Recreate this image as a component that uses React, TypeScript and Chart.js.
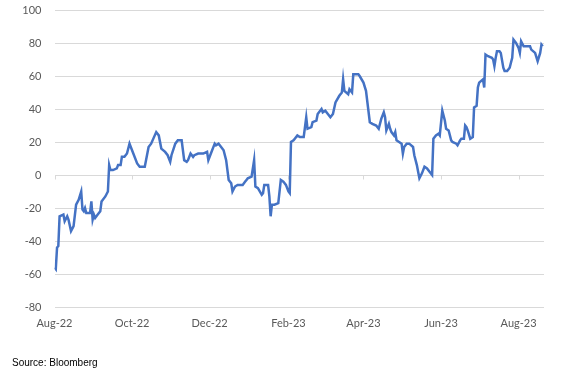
import React, { useEffect, useRef } from "react";
import { Chart, registerables } from "chart.js";

Chart.register(...registerables);

// Days since 1 Aug 2022
const days = [
  0, 1, 2, 3, 4, 7, 8, 10, 11, 13, 15, 17, 19, 21, 22, 23, 24, 25, 28, 29, 30, 31, 32, 34, 36, 37, 40, 42, 43, 44, 46, 49, 50, 52, 53, 55, 57, 59, 60, 65, 67, 71, 74, 76, 80, 82, 84, 87, 89, 91, 92, 95, 97, 100, 102, 104, 105, 107, 109, 110, 113, 117, 120, 121, 123, 126, 127, 129, 130, 133, 135, 137, 139, 140, 142, 144, 148, 150, 151, 152, 155, 157, 158, 160, 163, 164, 165, 168, 169, 170, 171, 173, 176, 178, 180, 182, 184, 185, 186, 188, 189, 191, 193, 196, 198, 199, 202, 203, 206, 207, 210, 211, 213, 215, 217, 219, 221, 224, 226, 227, 228, 231, 232, 234, 235, 237, 239, 240, 243, 245, 248, 250, 253, 255, 257, 259, 260, 261, 263, 264, 265, 267, 268, 269, 271, 273, 274, 275, 277, 279, 282, 283, 285, 286, 287, 289, 291, 293, 295, 297, 298, 300, 302, 303, 305, 307, 308, 310, 312, 313, 316, 317, 319, 320, 322, 323, 324, 325, 327, 329, 330, 332, 333, 334, 337, 338, 339, 341, 344, 345, 346, 347, 348, 350, 351, 353, 354, 356, 358, 359, 360, 361, 363, 365, 366, 367, 369, 370, 372, 374, 375, 378, 380, 382, 383, 384,
];

const values = [
  -56, -57, -44, -43, -25, -24, -28, -25, -27, -34, -31, -18, -15, -10, -21, -22, -20, -23, -23, -16, -27, -24, -26, -24, -22, -16, -13, -10, 6, 3, 3, 4, 6, 6, 11, 11, 13, 19, 17, 7, 5, 5, 17, 19, 26, 24, 16, 14, 12, 8, 12, 19, 21, 21, 9, 8, 9, 13, 11, 12, 13, 13, 14, 9, 13, 19, 18, 19, 18, 15, 9, -3, -5, -10, -7, -6, -6, -4, -3, -2, -1, 9, -7, -8, -12, -11, -6, -6, -13, -25, -18, -18, -17, -3, -4, -6, -10, -11, 20, 21, 22, 24, 23, 23, 35, 28, 29, 32, 33, 37, 40, 38, 39, 37, 35, 37, 44, 48, 50, 58, 51, 49, 52, 50, 61, 61, 61, 60, 56, 51, 32, 31, 30, 28, 34, 38, 35, 27, 31, 28, 26, 24, 26, 21, 20, 19, 13, 17, 19, 19, 17, 12, 6, 2, -2, 1, 5, 4, 2, 0, 22, 24, 25, 24, 39, 33, 28, 27, 21, 20, 19, 18, 21, 22, 22, 30, 29, 27, 22, 23, 41, 42, 53, 56, 58, 53, 73, 72, 71, 70, 66, 71, 75, 75, 74, 65, 63, 63, 65, 68, 71, 82, 80, 77, 74, 81, 78, 78, 78, 78, 76, 74, 69, 74, 79, 78,
];

const tickDays = [0, 61, 122, 184, 243, 304, 365];
const tickLabels = ["Aug-22", "Oct-22", "Dec-22", "Feb-23", "Apr-23", "Jun-23", "Aug-23"];

const FONT = "Lato, 'Open Sans', sans-serif";
const GRAY = "#595959";
const GRID = "#d9d9d9";

const zeroTicks = {
  id: "zeroTicks",
  beforeDatasetsDraw(chart: any) {
    const { ctx } = chart;
    const xs = chart.scales.x;
    const ys = chart.scales.y;
    const y0 = ys.getPixelForValue(0);
    ctx.save();
    ctx.strokeStyle = GRID;
    ctx.lineWidth = 1;
    ctx.beginPath();
    for (const d of tickDays) {
      const px = Math.round(xs.getPixelForValue(d)) + 0.5;
      ctx.moveTo(px, y0);
      ctx.lineTo(px, y0 + 4.5);
    }
    ctx.stroke();
    ctx.restore();
  },
};

export default function App() {
  const ref = useRef<HTMLCanvasElement>(null);
  useEffect(() => {
    if (!ref.current) return;
    const chart = new Chart(ref.current, {
      type: "line",
      data: {
        datasets: [
          {
            data: days.map((d, i) => ({ x: d, y: values[i] })),
            borderColor: "#4472C4",
            borderWidth: 2.5,
            pointRadius: 0,
            tension: 0,
            fill: false,
          },
        ],
      },
      options: {
        animation: false,
        responsive: false,
        maintainAspectRatio: false,
        layout: { padding: { left: 0, right: 36, top: 10, bottom: 42 } },
        plugins: { legend: { display: false }, tooltip: { enabled: false } },
        scales: {
          x: {
            type: "linear",
            min: 0,
            max: 385,
            grid: { display: false, drawTicks: false },
            border: { display: false },
            afterBuildTicks: (scale: any) => {
              scale.ticks = tickDays.map((v) => ({ value: v }));
            },
            afterFit: (scale: any) => {
              scale.height = 30;
              scale.paddingLeft = 0;
              scale.paddingRight = 0;
            },
            ticks: {
              autoSkip: false,
              maxRotation: 0,
              padding: 10,
              color: GRAY,
              font: { family: FONT, size: 11 },
              callback: (_v: any, i: number) => tickLabels[i],
            },
          },
          y: {
            min: -80,
            max: 100,
            grid: { color: GRID, lineWidth: 1, drawTicks: false },
            border: { display: false },
            afterFit: (scale: any) => {
              scale.width = 54.5;
              scale.paddingTop = 0;
              scale.paddingBottom = 0;
            },
            ticks: {
              stepSize: 20,
              padding: 13,
              color: GRAY,
              font: { family: FONT, size: 11 },
            },
          },
        },
      },
      plugins: [zeroTicks],
    });
    return () => chart.destroy();
  }, []);

  return (
    <div style={{ position: "fixed", left: 0, top: 0, width: 580, height: 379, background: "#fff" }}>
      <canvas ref={ref} width={580} height={379} style={{ width: 580, height: 379, display: "block" }} />
      <div
        style={{
          position: "absolute",
          left: 12,
          top: 357,
          fontFamily: "'Liberation Sans', Arial, sans-serif",
          fontSize: 10,
          color: "#000",
          lineHeight: "12px",
        }}
      >
        Source: Bloomberg
      </div>
    </div>
  );
}
